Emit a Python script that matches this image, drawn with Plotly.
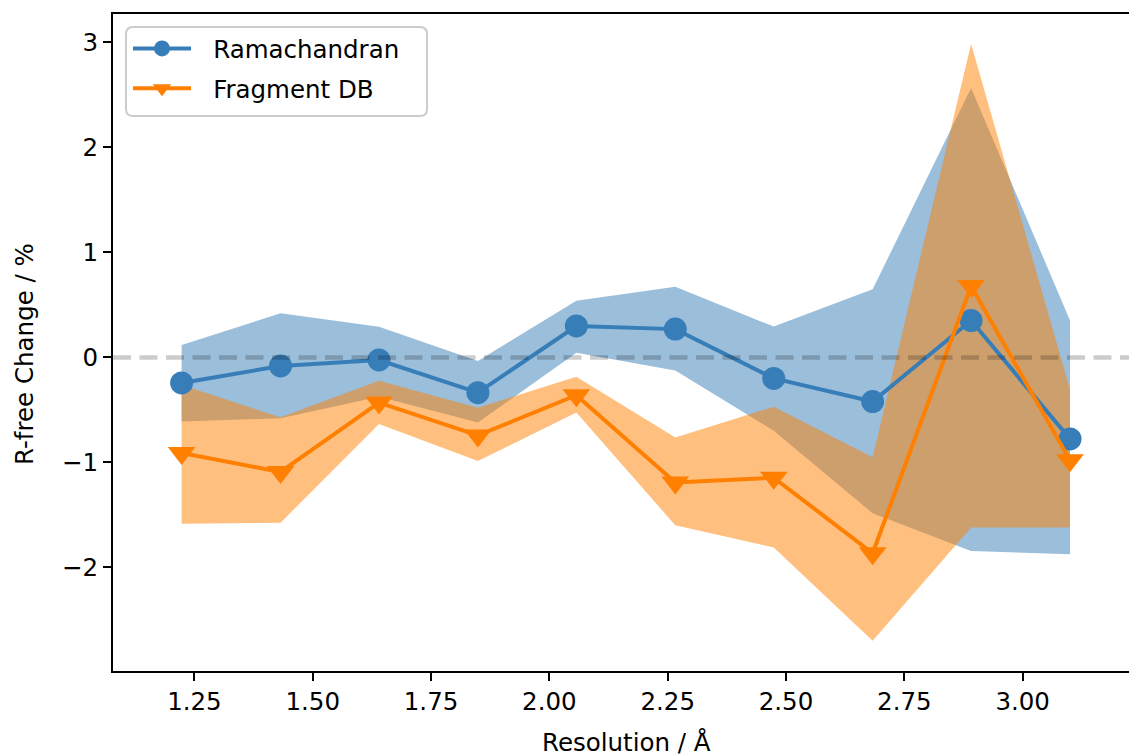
import plotly.graph_objects as go

# Resolution bin centres (Å)
resolution = [1.223, 1.432, 1.640, 1.849, 2.057, 2.266, 2.474, 2.683, 2.891, 3.100]

# Ramachandran restraints: mean R-free change and spread (%)
rama_mean = [-0.243, -0.081, -0.024, -0.335, 0.300, 0.270, -0.200, -0.420, 0.352, -0.776]
rama_low = [-0.610, -0.579, -0.373, -0.620, 0.046, -0.123, -0.698, -1.484, -1.843, -1.874]
rama_high = [0.119, 0.421, 0.293, -0.033, 0.541, 0.674, 0.294, 0.649, 2.567, 0.352]

# Fragment database restraints: mean R-free change and spread (%)
frag_mean = [-0.910, -1.090, -0.430, -0.742, -0.360, -1.190, -1.145, -1.865, 0.680, -0.980]
frag_low = [-1.583, -1.573, -0.633, -0.986, -0.525, -1.598, -1.810, -2.697, -1.620, -1.620]
frag_high = [-0.262, -0.570, -0.221, -0.478, -0.183, -0.763, -0.470, -0.950, 2.986, -0.306]

x_ticks = [1.25, 1.50, 1.75, 2.00, 2.25, 2.50, 2.75, 3.00]
y_ticks = [-2, -1, 0, 1, 2, 3]

BLUE = "#377eb8"
ORANGE = "#ff7f00"
FONT = "DejaVu Sans"
FS = 24.5
PAD = "\u2002\u2009"  # gap between legend sample and label

W, H = 1129, 756
ML, MR, MT, MB = 113, 0, 14, 85
PW, PH = W - ML - MR, H - MT - MB

fig = go.Figure()


def band(low, high, color):
    fig.add_trace(go.Scatter(x=resolution, y=low, mode="lines", line=dict(width=0),
                             showlegend=False, hoverinfo="skip"))
    fig.add_trace(go.Scatter(x=resolution, y=high, mode="lines", line=dict(width=0),
                             fill="tonexty", fillcolor=color,
                             showlegend=False, hoverinfo="skip"))


band(rama_low, rama_high, "rgba(55,126,184,0.5)")
band(frag_low, frag_high, "rgba(255,127,0,0.5)")

fig.add_trace(go.Scatter(
    x=resolution, y=rama_mean, mode="lines+markers", name=PAD + "Ramachandran",
    legendgroup="rama", legendrank=1,
    line=dict(color=BLUE, width=4),
    marker=dict(symbol="circle", size=23, color=BLUE),
))
fig.add_trace(go.Scatter(
    x=resolution, y=frag_mean, mode="lines+markers", name=PAD + "Fragment DB",
    legendgroup="frag", legendrank=2,
    line=dict(color=ORANGE, width=4),
    marker=dict(symbol="triangle-down", size=24, color=ORANGE),
))

# horizontal reference at zero change
fig.add_shape(type="line", xref="paper", x0=0, x1=1, yref="y", y0=0, y1=0,
              line=dict(color="rgba(0,0,0,0.2)", width=4.5, dash="18px,8.5px"),
              layer="above")


def px_x(p):
    return (p - ML) / PW


def px_y(p):
    return (H - MB - p) / PH


# rounded legend frame
x0, x1, y0, y1 = 126, 427, 27, 116
r = 7
path = (
    f"M{px_x(x0 + r)},{px_y(y0)} L{px_x(x1 - r)},{px_y(y0)} "
    f"Q{px_x(x1)},{px_y(y0)} {px_x(x1)},{px_y(y0 + r)} "
    f"L{px_x(x1)},{px_y(y1 - r)} Q{px_x(x1)},{px_y(y1)} {px_x(x1 - r)},{px_y(y1)} "
    f"L{px_x(x0 + r)},{px_y(y1)} Q{px_x(x0)},{px_y(y1)} {px_x(x0)},{px_y(y1 - r)} "
    f"L{px_x(x0)},{px_y(y0 + r)} Q{px_x(x0)},{px_y(y0)} {px_x(x0 + r)},{px_y(y0)} Z"
)
fig.add_shape(type="path", xref="paper", yref="paper", path=path,
              fillcolor="rgba(255,255,255,0.8)", line=dict(color="#cccccc", width=2),
              layer="above")

fig.add_annotation(text="Resolution / Å", xref="paper", yref="paper",
                   x=px_x(626), y=px_y(742), xanchor="center", yanchor="middle",
                   showarrow=False, font=dict(family=FONT, size=FS, color="black"))
fig.add_annotation(text="R-free Change / %", xref="paper", yref="paper",
                   x=px_x(24), y=px_y(354), xanchor="center", yanchor="middle",
                   textangle=-90, showarrow=False,
                   font=dict(family=FONT, size=FS, color="black"))

axis_common = dict(
    showgrid=False, zeroline=False, showline=True, linecolor="black", linewidth=2,
    ticks="outside", ticklen=8, tickwidth=2, tickcolor="black",
    tickfont=dict(family=FONT, size=FS, color="black"),
)

fig.update_layout(
    width=W, height=H,
    margin=dict(l=ML, r=MR, t=MT, b=MB),
    plot_bgcolor="white", paper_bgcolor="white",
    xaxis=dict(range=[1.078, 1.078 + PW / 473.3], tickvals=x_ticks,
               tickformat=".2f", mirror=True, **axis_common),
    yaxis=dict(range=[-2.986, -2.986 + PH / 105.0], tickvals=y_ticks,
               mirror=False, **axis_common),
    showlegend=True,
    legend=dict(x=px_x(128), y=px_y(26), xanchor="left", yanchor="top",
                bgcolor="rgba(0,0,0,0)", borderwidth=0, traceorder="grouped",
                font=dict(family=FONT, size=FS, color="black"),
                itemwidth=58, tracegroupgap=5),
)

fig.write_html("out.html")
